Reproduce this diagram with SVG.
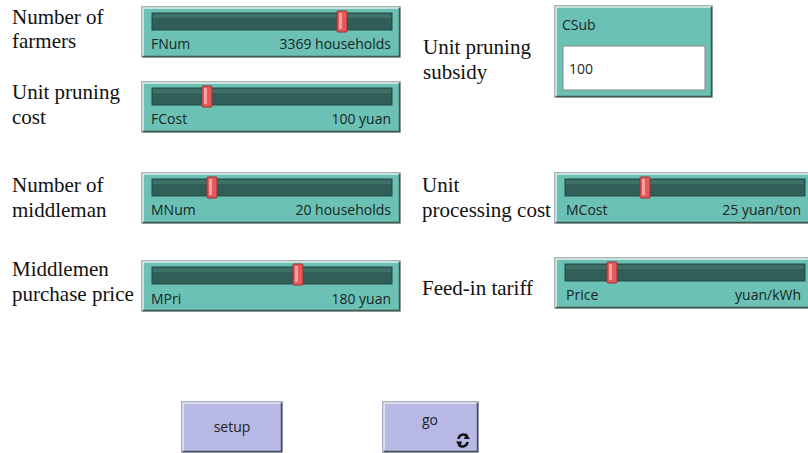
<svg xmlns="http://www.w3.org/2000/svg" width="808" height="453" viewBox="0 0 808 453">
<defs>
<style>
.lbl{font-family:"Liberation Serif","DejaVu Serif",serif;font-size:21px;fill:#111}
.wl{font-family:"Open Sans","Liberation Sans",sans-serif;font-size:14px;fill:#172624}
.box{fill:#6cc1b5;stroke:#8a9a98;stroke-width:1.5}
.hl{fill:none;stroke:#e4efed;stroke-width:1.5}
.sh{fill:none;stroke:#3f5552;stroke-width:1.5}
.tr{fill:#2f5f58;stroke:#244a45;stroke-width:1}
.trh{fill:#3f7068}
.th{fill:#e35a5a;stroke:#9c2f2f;stroke-width:1}
.thh{fill:#f4a0a0}
.btn{fill:#b7b8e6;stroke:#8e8fb0;stroke-width:1.5}
</style>
<g id="slider">
<rect class="box" x="0" y="0" width="258" height="50"/>
<path class="hl" d="M1,49 V1 H257"/>
<path class="sh" d="M1,49.5 H257.5 V1"/>
<rect class="tr" x="10" y="6" width="240" height="17"/>
<rect class="trh" x="11" y="7" width="238" height="4"/>
</g>
<g id="thumb">
<rect class="th" x="0" y="0" width="10" height="21" rx="1"/>
<rect class="thh" x="2" y="2" width="3" height="16"/>
</g>
</defs>
<g id="nodes">
<g id="lbl-fnum"><text class="lbl" x="12" y="24">Number of</text><text class="lbl" x="12" y="48">farmers</text></g>
<g id="s-fnum">
<use href="#slider" x="142" y="7"/>
<use href="#thumb" x="337" y="11"/>
<text class="wl" x="151" y="49">FNum</text>
<text class="wl" x="391" y="49" text-anchor="end">3369 households</text>
</g>
<g id="lbl-fcost"><text class="lbl" x="12" y="99">Unit pruning</text><text class="lbl" x="12" y="124">cost</text></g>
<g id="s-fcost">
<use href="#slider" x="142" y="82"/>
<use href="#thumb" x="202" y="86"/>
<text class="wl" x="151" y="124">FCost</text>
<text class="wl" x="391" y="124" text-anchor="end">100 yuan</text>
</g>
<g id="lbl-mnum"><text class="lbl" x="12" y="192">Number of</text><text class="lbl" x="12" y="217">middleman</text></g>
<g id="s-mnum">
<use href="#slider" x="142" y="173"/>
<use href="#thumb" x="207" y="177"/>
<text class="wl" x="151" y="215">MNum</text>
<text class="wl" x="391" y="215" text-anchor="end">20 households</text>
</g>
<g id="lbl-mpri"><text class="lbl" x="12" y="276">Middlemen</text><text class="lbl" x="12" y="301">purchase price</text></g>
<g id="s-mpri">
<use href="#slider" x="142" y="261"/>
<use href="#thumb" x="293" y="264"/>
<text class="wl" x="151" y="304">MPri</text>
<text class="wl" x="391" y="304" text-anchor="end">180 yuan</text>
</g>
<g id="lbl-csub"><text class="lbl" x="423" y="54">Unit pruning</text><text class="lbl" x="423" y="79">subsidy</text></g>
<g id="i-csub">
<rect class="box" x="555" y="6" width="157" height="91"/>
<path class="hl" d="M556,96 V7 H711"/>
<path class="sh" d="M556,96.5 H711.5 V7"/>
<rect x="563" y="46" width="142" height="44" fill="#ffffff" stroke="#7f8c8a" stroke-width="1"/>
<text class="wl" x="562" y="30" font-size="13">CSub</text>
<text class="wl" x="569" y="74">100</text>
</g>
<g id="lbl-mcost"><text class="lbl" x="422" y="192">Unit</text><text class="lbl" x="422" y="217">processing cost</text></g>
<g id="s-mcost">
<use href="#slider" x="555" y="173"/>
<use href="#thumb" x="640" y="177"/>
<text class="wl" x="566" y="215">MCost</text>
<text class="wl" x="801" y="215" text-anchor="end">25 yuan/ton</text>
</g>
<g id="lbl-price"><text class="lbl" x="422" y="295">Feed-in tariff</text></g>
<g id="s-price">
<use href="#slider" x="555" y="258"/>
<use href="#thumb" x="607" y="262"/>
<text class="wl" x="566" y="300">Price</text>
<text class="wl" x="801" y="300" text-anchor="end">yuan/kWh</text>
</g>
<g id="b-setup">
<rect class="btn" x="182" y="402" width="100" height="50"/>
<path class="hl" d="M183,451 V403 H281" stroke="#eeeeff"/>
<path class="sh" d="M183,451.5 H281.5 V403" stroke="#6b6c88"/>
<text class="wl" x="232" y="432" text-anchor="middle">setup</text>
</g>
<g id="b-go">
<rect class="btn" x="383" y="402" width="95" height="50"/>
<path class="hl" d="M384,451 V403 H477" stroke="#eeeeff"/>
<path class="sh" d="M384,451.5 H477.5 V403" stroke="#6b6c88"/>
<text class="wl" x="430" y="425" text-anchor="middle">go</text>
<g fill="none" stroke="#111" stroke-width="2.5">
<path d="M458.5,439 A5,5 0 0 1 467.5,436.5"/>
<path d="M467.5,442 A5,5 0 0 1 458.5,444.5"/>
</g>
<path d="M466,433 L470,439 L464,439 Z M460,447.5 L456,441.5 L462,441.5 Z" fill="#111"/>
</g>
</g>
<g id="connectors"/>
</svg>
